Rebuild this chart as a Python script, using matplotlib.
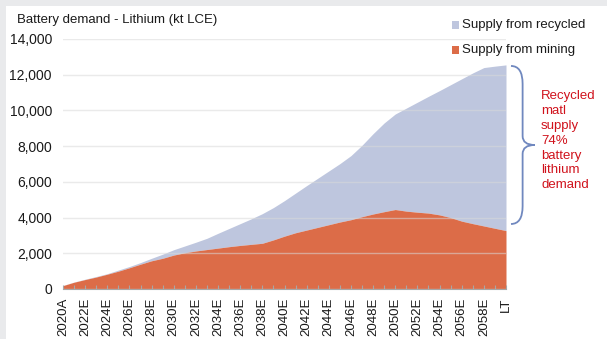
import matplotlib.pyplot as plt
from matplotlib.patches import PathPatch, Rectangle
from matplotlib.path import Path

plt.rcParams['font.family'] = ['Liberation Sans', 'DejaVu Sans']

# categories: 2020A, 2021E ... 2059E, LT
years = ['2020A'] + ['%dE' % y for y in range(2021, 2060)] + ['LT']

# lithium battery demand (kt LCE)
total_demand = [200, 390, 550, 700, 860, 1060, 1260, 1480, 1720, 1950,
                2200, 2410, 2620, 2840, 3120, 3390, 3660, 3930, 4220, 4560,
                4950, 5370, 5790, 6200, 6610, 7020, 7470, 8050, 8700, 9300,
                9800, 10130, 10460, 10790, 11110, 11440, 11770, 12100, 12400, 12480,
                12550]
supply_mining = [190, 380, 530, 670, 830, 1000, 1190, 1390, 1580, 1720,
                 1900, 2030, 2130, 2210, 2290, 2370, 2440, 2500, 2560, 2750,
                 2960, 3150, 3300, 3450, 3600, 3750, 3880, 4050, 4200, 4330,
                 4450, 4360, 4300, 4250, 4150, 4000, 3800, 3660, 3530, 3400,
                 3270]

c_recycled = '#bec6de'
c_mining = '#dc6c48'
c_note = '#d0121c'

fig = plt.figure(figsize=(6.07, 3.39), dpi=100)
fig.patch.set_facecolor('#e9eaec')
fig.patches.append(Rectangle((6 / 607, 0), 1, 1 - 6 / 339, transform=fig.transFigure,
                             facecolor='white', edgecolor='none', zorder=-5))

ax = fig.add_axes([63 / 607, 50 / 339, 443 / 607, 250 / 339])
ax.set_facecolor('none')
x = list(range(len(years)))

ax.fill_between(x, supply_mining, total_demand, color=c_recycled, lw=0, zorder=2)
ax.fill_between(x, 0, supply_mining, color=c_mining, lw=0, zorder=2)

ax.set_xlim(0, len(years) - 1)
ax.set_ylim(0, 14000)
ax.set_yticks(range(0, 14001, 2000))
ax.set_yticklabels(['{:,}'.format(v) for v in range(0, 14001, 2000)], fontsize=10)
ax.yaxis.grid(True, color='#d9d9d9', lw=1, zorder=3, alpha=0.55)
ax.set_axisbelow(False)
ax.tick_params(axis='y', length=0, pad=8, labelcolor='#1a1a1a')

ax.set_xticks(x)
ax.set_xticklabels([y if i % 2 == 0 else '' for i, y in enumerate(years)],
                   rotation=90, fontsize=9.5)
ax.tick_params(axis='x', direction='in', length=3, color='#a6a6a6', pad=6,
               labelcolor='#1a1a1a')

for s in ['top', 'right', 'left']:
    ax.spines[s].set_visible(False)
ax.spines['bottom'].set_color('#a6a6a6')
ax.spines['bottom'].set_zorder(4)

fig.text(17 / 607, 1 - 20 / 339, 'Battery demand - Lithium (kt LCE)', fontsize=9.5,
         va='center', ha='left', color='#1a1a1a')

# legend
for i, (lab, col) in enumerate([('Supply from recycled', c_recycled),
                                 ('Supply from mining', c_mining)]):
    yc = 1 - (25 + 25 * i) / 339
    fig.patches.append(Rectangle((451.5 / 607, yc - 3.75 / 339), 7.5 / 607, 7.5 / 339,
                                 transform=fig.transFigure, facecolor=col,
                                 edgecolor='none'))
    fig.text(462 / 607, yc, lab, fontsize=9.5, va='center', ha='left', color='#1a1a1a')

# curly brace spanning the recycled share at LT
top, bot = total_demand[-1] - 60, supply_mining[-1] + 370
mid = (top + bot) / 2
x0, x1, x2 = 40.45, 41.5, 42.6
r = 500
verts = [(x0, top), (x1, top), (x1, top - 2 * r),
         (x1, mid + r), (x1, mid), (x2, mid),
         (x1, mid), (x1, mid - r),
         (x1, bot + 2 * r), (x1, bot), (x0, bot)]
codes = [Path.MOVETO, Path.CURVE3, Path.CURVE3,
         Path.LINETO, Path.CURVE3, Path.CURVE3,
         Path.CURVE3, Path.CURVE3,
         Path.LINETO, Path.CURVE3, Path.CURVE3]
ax.add_patch(PathPatch(Path(verts, codes), facecolor='none', edgecolor='#7088bf',
                       lw=1.3, clip_on=False, zorder=5))

share = round(100 * (1 - supply_mining[-1] / total_demand[-1]))
fig.text(541 / 607, 1 - 90 / 339,
         'Recycled\nmatl\nsupply\n%d%%\nbattery\nlithium\ndemand' % share,
         fontsize=9.5, color=c_note, va='top', ha='left', linespacing=1.32)

fig.savefig('out.png', dpi=100)
